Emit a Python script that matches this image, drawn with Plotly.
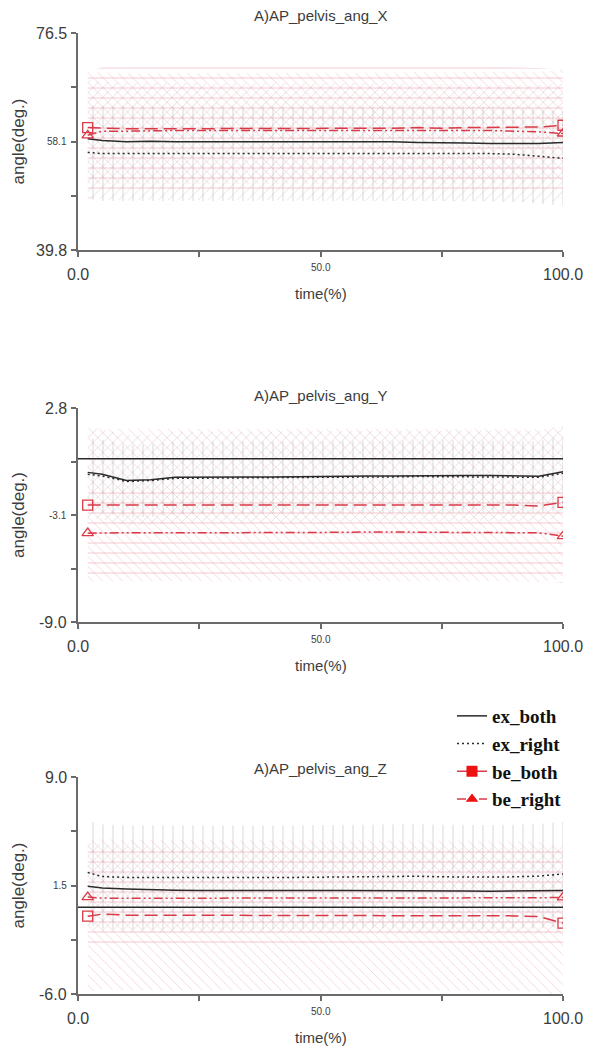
import plotly.graph_objects as go

# ---------------------------------------------------------------- data
time_pct = [2, 5, 10, 15, 20, 25, 30, 35, 40, 45, 50,
            55, 60, 65, 70, 75, 80, 85, 90, 95, 100]

# AP_pelvis_ang_X (deg)
ex_both_x = [58.6, 58.3, 58.1, 58.2, 58.1, 58.1, 58.2, 58.1, 58.1, 58.1, 58.1,
             58.1, 58.1, 58.1, 58.0, 58.0, 57.9, 57.8, 57.8, 57.8, 58.0]
ex_right_x = [56.3, 56.1, 56.1, 56.1, 56.1, 56.1, 56.2, 56.1, 56.1, 56.2, 56.2,
              56.2, 56.2, 56.1, 56.2, 56.2, 56.1, 56.1, 56.0, 55.7, 55.3]
be_both_x = [60.5, 60.4, 60.3, 60.3, 60.3, 60.3, 60.3, 60.4, 60.4, 60.4, 60.4,
             60.4, 60.4, 60.4, 60.5, 60.4, 60.5, 60.5, 60.5, 60.6, 60.9]
be_right_x = [59.2, 59.9, 59.9, 60.0, 60.0, 60.0, 60.0, 60.0, 60.0, 60.0, 60.0,
              60.0, 60.1, 60.0, 60.0, 60.0, 60.0, 60.0, 59.9, 59.8, 59.5]

# AP_pelvis_ang_Y (deg)
ex_both_y = [-0.75, -0.85, -1.20, -1.15, -1.02, -1.00, -1.00, -1.00, -1.00, -0.98, -0.98,
             -0.96, -0.95, -0.95, -0.93, -0.92, -0.92, -0.92, -0.92, -0.96, -0.72]
ex_right_y = [-0.85, -0.95, -1.25, -1.20, -1.08, -1.06, -1.05, -1.05, -1.04, -1.03, -1.03,
              -1.01, -1.00, -1.00, -0.98, -0.98, -0.98, -0.98, -0.99, -1.02, -0.80]
be_both_y = [-2.55, -2.56, -2.55, -2.55, -2.55, -2.55, -2.55, -2.55, -2.55, -2.55, -2.55,
             -2.55, -2.55, -2.55, -2.55, -2.55, -2.55, -2.55, -2.55, -2.60, -2.40]
be_right_y = [-4.10, -4.08, -4.08, -4.08, -4.07, -4.07, -4.07, -4.07, -4.07, -4.07, -4.05,
              -4.05, -4.03, -4.03, -4.05, -4.05, -4.05, -4.05, -4.05, -4.08, -4.27]

# AP_pelvis_ang_Z (deg)
ex_both_z = [1.45, 1.32, 1.25, 1.20, 1.18, 1.16, 1.15, 1.15, 1.16, 1.15, 1.15,
             1.16, 1.16, 1.15, 1.14, 1.13, 1.12, 1.10, 1.10, 1.12, 1.15]
ex_right_z = [2.40, 2.12, 2.06, 2.05, 2.05, 2.05, 2.06, 2.05, 2.05, 2.06, 2.08,
              2.10, 2.15, 2.16, 2.14, 2.10, 2.08, 2.08, 2.10, 2.15, 2.30]
be_right_z = [0.70, 0.63, 0.62, 0.62, 0.62, 0.62, 0.62, 0.62, 0.62, 0.62, 0.60,
              0.63, 0.62, 0.62, 0.62, 0.62, 0.62, 0.62, 0.62, 0.65, 0.68]
be_both_z = [-0.62, -0.48, -0.55, -0.55, -0.55, -0.55, -0.55, -0.55, -0.55, -0.55, -0.55,
             -0.55, -0.55, -0.55, -0.55, -0.55, -0.55, -0.55, -0.60, -0.65, -1.10]

# standard deviations per panel (X, Y, Z)
sd_ex_both = [9.9, 2.5, 3.0]
sd_ex_right = [8.0, 2.0, 3.6]
sd_be_both = [9.4, 4.2, 5.2]
sd_be_right = [10.8, 2.6, 3.5]

panel_titles = ["A)AP_pelvis_ang_X", "A)AP_pelvis_ang_Y", "A)AP_pelvis_ang_Z"]
y_ranges = [(39.8, 76.5), (-9.0, 2.8), (-6.0, 9.0)]
x_range = (0.0, 100.0)
series_names = ["ex_both", "ex_right", "be_both", "be_right"]

means = [
    [ex_both_x, ex_right_x, be_both_x, be_right_x],
    [ex_both_y, ex_right_y, be_both_y, be_right_y],
    [ex_both_z, ex_right_z, be_both_z, be_right_z],
]
sds = [sd_ex_both, sd_ex_right, sd_be_both, sd_be_right]

# ---------------------------------------------------------------- styles
W, H = 594, 1051
RED = "#d93a48"
PINK = "rgba(232,140,158,0.8)"
GREY = "rgba(160,160,160,0.7)"
AXIS = "#6a6a6a"
TEXT = "#3c3c3c"
SANS = "Liberation Sans, Arial"

line_style = {
    "ex_both": dict(color="#2a2a2a", width=1.5, dash="solid"),
    "ex_right": dict(color="#2a2a2a", width=1.5, dash="2px,3px"),
    "be_both": dict(color=RED, width=1.5, dash="13px,6px"),
    "be_right": dict(color=RED, width=1.5, dash="9px,3px,2px,3px,2px,3px"),
}
band_style = {
    "ex_both": dict(shape="/", fgcolor=GREY, size=7),
    "ex_right": dict(shape="|", fgcolor=GREY, size=10),
    "be_both": dict(shape="\\", fgcolor=PINK, size=7),
    "be_right": dict(shape="-", fgcolor=PINK, size=10),
}
end_symbol = {"be_both": "square-open", "be_right": "triangle-up-open"}
legend_symbol = {"be_both": "square", "be_right": "triangle-up"}

# plot-area pixel boxes (left, right, top, bottom)
x_px = (78, 563)
y_px = [(33, 250), (408, 622), (777, 994)]
title_shift = [18, 13, 9]

fig = go.Figure()

for p in range(3):
    ax = "" if p == 0 else str(p + 1)
    xa, ya = "x" + ax, "y" + ax

    # SD bands as hatched regions
    for s, name in enumerate(series_names):
        m = means[p][s]
        sd = sds[s][p]
        upper = [v + sd for v in m]
        lower = [v - sd for v in m]
        st = band_style[name]
        fig.add_trace(go.Scatter(
            x=time_pct + time_pct[::-1], y=upper + lower[::-1],
            xaxis=xa, yaxis=ya, mode="lines", line=dict(width=0),
            fill="toself", fillcolor="rgba(0,0,0,0)",
            fillpattern=dict(shape=st["shape"], fgcolor=st["fgcolor"],
                             bgcolor="rgba(0,0,0,0)", size=st["size"], solidity=0.12),
            hoverinfo="skip", showlegend=False))

    # zero reference line
    lo, hi = y_ranges[p]
    if lo < 0 < hi:
        fig.add_shape(type="line", xref=xa + " domain", yref=ya, x0=0, x1=1, y0=0, y1=0,
                      line=dict(color="#2a2a2a", width=1.5))

    # mean curves
    for s, name in enumerate(series_names):
        m = means[p][s]
        fig.add_trace(go.Scatter(
            x=time_pct, y=m, xaxis=xa, yaxis=ya, mode="lines",
            line=line_style[name], showlegend=False, name=name))
        if name in end_symbol:
            fig.add_trace(go.Scatter(
                x=[time_pct[0], time_pct[-1]], y=[m[0], m[-1]], xaxis=xa, yaxis=ya,
                mode="markers", marker=dict(symbol=end_symbol[name], size=10, color=RED,
                                            line=dict(width=1.3, color=RED)),
                showlegend=False, hoverinfo="skip"))

    top, bot = y_px[p]
    dom_y = [1 - bot / H, 1 - top / H]
    dom_x = [x_px[0] / W, x_px[1] / W]
    ticks_y = [lo + (hi - lo) * k / 4 for k in range(5)]
    fig.update_layout(**{
        ("xaxis" + ax): dict(domain=dom_x, range=list(x_range), anchor=ya,
                             showgrid=False, zeroline=False, showline=True,
                             linecolor=AXIS, linewidth=2, ticks="outside", ticklen=5,
                             tickwidth=1.5, tickcolor=AXIS, tickvals=[0, 25, 50, 75, 100],
                             showticklabels=False, fixedrange=True),
        ("yaxis" + ax): dict(domain=dom_y, range=[lo, hi], anchor=xa,
                             showgrid=False, zeroline=False, showline=True,
                             linecolor=AXIS, linewidth=2, ticks="outside", ticklen=5,
                             tickwidth=1.5, tickcolor=AXIS, tickvals=ticks_y,
                             showticklabels=False, fixedrange=True),
    })

    # title
    fig.add_annotation(text=panel_titles[p], xref=xa + " domain", yref=ya + " domain",
                       x=0.5, y=1, yshift=title_shift[p], yanchor="middle", showarrow=False,
                       font=dict(family=SANS, size=15, color=TEXT))
    # x tick labels: end values large, middle small
    for val, lab, size, shift in [(0, "0.0", 16, -24), (50, "50.0", 10, -17),
                                  (100, "100.0", 16, -24)]:
        fig.add_annotation(text=lab, xref=xa, yref=ya + " domain", x=val, y=0,
                           yshift=shift, showarrow=False, yanchor="middle",
                           font=dict(family=SANS, size=size, color=TEXT))
    # y tick labels
    mid = (lo + hi) / 2
    for val, size in [(hi, 16), (mid, 10), (lo, 16)]:
        lab = f"{val:.1f}" if val is not mid else f"{int(mid * 10) / 10:.1f}"
        fig.add_annotation(text=lab, xref=xa + " domain", yref=ya, x=0, y=val,
                           xshift=-9, xanchor="right", yanchor="middle", showarrow=False,
                           font=dict(family=SANS, size=size, color=TEXT))
    # axis titles
    fig.add_annotation(text="time(%)", xref=xa + " domain", yref=ya + " domain",
                       x=0.5, y=0, yshift=-43, showarrow=False, yanchor="middle",
                       font=dict(family=SANS, size=15, color=TEXT))
    fig.add_annotation(text="angle(deg.)", xref="paper", yref=ya + " domain",
                       x=18 / W, y=0.5, textangle=-90, showarrow=False,
                       xanchor="center", yanchor="middle",
                       font=dict(family=SANS, size=17, color=TEXT))

# legend entries
for name in series_names:
    st = line_style[name]
    if name in legend_symbol:
        fig.add_trace(go.Scatter(x=[None], y=[None], xaxis="x3", yaxis="y3",
                                 mode="lines+markers", name=name, line=st,
                                 marker=dict(symbol=legend_symbol[name], size=11, color="#ee1111")))
    else:
        fig.add_trace(go.Scatter(x=[None], y=[None], xaxis="x3", yaxis="y3",
                                 mode="lines", name=name, line=st))

fig.update_layout(
    width=W, height=H,
    margin=dict(l=0, r=0, t=0, b=0),
    paper_bgcolor="white", plot_bgcolor="white",
    showlegend=True,
    legend=dict(x=452 / W, y=1 - 697 / H, xanchor="left", yanchor="top",
                bgcolor="rgba(255,255,255,0)", tracegroupgap=0, itemwidth=30,
                font=dict(family="Liberation Serif, Times New Roman", size=19,
                          color="#111", weight="bold")),
)

fig.write_html("out.html")
